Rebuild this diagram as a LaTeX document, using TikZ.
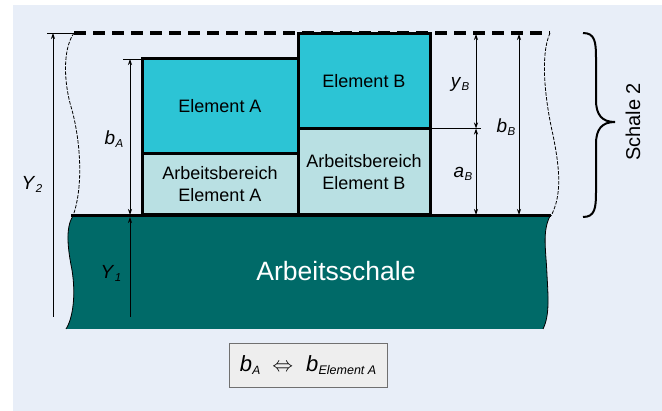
\documentclass[tikz,border=0pt]{standalone}
\usepackage{fontspec}
\setmainfont{Liberation Sans}
\usetikzlibrary{arrows.meta}
\definecolor{bgblue}{HTML}{E8EEF8}
\definecolor{elemcyan}{HTML}{2CC4D5}
\definecolor{arblight}{HTML}{B9E0E3}
\definecolor{groundteal}{HTML}{006A68}
\definecolor{eqfill}{HTML}{EEEEEE}
\definecolor{eqdraw}{HTML}{707070}
\newcommand{\dimlbl}[4]{{\fontsize{#3}{#3}\selectfont\textit{#1}}\kern0.3pt\raisebox{-0.3em}{\fontsize{#4}{#4}\selectfont\textit{#2}}}
\begin{document}
\begin{tikzpicture}[x=1pt,y=-1pt,
  elembox/.style={draw=black, line width=3pt, fill=elemcyan, inner sep=0pt, outer sep=0pt, align=center, font=\fontsize{18}{22}\selectfont},
  arbbox/.style={elembox, fill=arblight},
  dimline/.style={line width=0.8pt, {Stealth[length=6pt,width=4pt]}-{Stealth[length=6pt,width=4pt]}},
  upline/.style={line width=0.8pt, -{Stealth[length=6pt,width=4pt]}},
  thinline/.style={line width=0.8pt},
  wavy/.style={line width=0.8pt, dash pattern=on 3.5pt off 1.5pt},
  lbl/.style={inner sep=0pt}
]
\useasboundingbox (0,0) rectangle (662,411);
\fill[white] (0,0) rectangle (662,411);
\fill[bgblue] (13,5) rectangle (662,411);

% ground (Arbeitsschale)
\fill[groundteal] (73,216) .. controls (65,228) and (68,250) .. (72,270)
  .. controls (76,295) and (73,318) .. (66,329) -- (543,329)
  .. controls (550,315) and (548,295) .. (547,275)
  .. controls (546,250) and (542,232) .. (550,216) -- cycle;
\draw[thinline] (73,216) .. controls (65,228) and (68,250) .. (72,270)
  .. controls (76,295) and (73,318) .. (66,329);
\draw[thinline] (550,216) .. controls (542,232) and (546,250) .. (547,275)
  .. controls (548,295) and (550,315) .. (543,329);
\node[text=white, font=\fontsize{26.5}{30}\selectfont] (schale) at (336,271) {Arbeitsschale};

% wavy dashed side lines
\draw[wavy] (74,33) .. controls (62,50) and (64,85) .. (72,110)
  .. controls (80,140) and (84,185) .. (73,216);
\draw[wavy] (550,33) .. controls (540,55) and (545,100) .. (553,135)
  .. controls (560,170) and (562,195) .. (551,216);

% dashed top line
\draw[line width=3.5pt, dash pattern=on 12pt off 7pt] (74,33) -- (550,33);
\coordinate (y2top) at (53,33);
\coordinate (tickl) at (47,33);
\coordinate (tickr) at (74,33);
\draw[thinline] (tickl) -- (tickr);

% elements
\node[elembox, minimum width=156pt, minimum height=95pt] (ea) at (220,106.5) {Element A};
\node[arbbox, minimum width=156pt, minimum height=61pt] (aa) at (220,184.5) {Arbeitsbereich\\Element A};
\node[elembox, minimum width=132pt, minimum height=94.5pt] (eb) at (364,81.25) {Element B};
\node[arbbox, minimum width=132pt, minimum height=86.5pt] (ab) at (364,171.75) {Arbeitsbereich\\Element B};

% ground top edge
\draw[line width=3pt] (71,215.5) -- (551,215.5);

% dimension lines
\coordinate (batop) at (130,59);
\coordinate (babot) at (130,215);
\coordinate (batick) at (123,59);
\draw[thinline] (batick) -- (ea.north west);
\draw[dimline] (batop) -- (babot);
\node[lbl] (lba) at (114,139) {\dimlbl{b}{A}{19}{11.5}};

\coordinate (y2bot) at (53,317);
\draw[upline] (y2bot) -- (y2top);
\node[lbl] (ly2) at (32,184) {\dimlbl{Y}{2}{19}{11.5}};

\coordinate (y1bot) at (130,317);
\coordinate (y1top) at (130,217);
\draw[upline] (y1bot) -- (y1top);
\node[lbl] (ly1) at (111,273) {\dimlbl{Y}{1}{19}{11.5}};

\coordinate (ybtop) at (476,34);
\coordinate (ybmid) at (476,128.5);
\coordinate (ybtick) at (481,128.5);
\coordinate (abbot) at (476,215);
\coordinate (bbtop) at (519,34);
\coordinate (bbbot) at (519,215);
\draw[thinline] (eb.south east) -- (ybtick);
\draw[dimline] (ybtop) -- (ybmid);
\draw[dimline] (ybmid) -- (abbot);
\draw[dimline] (bbtop) -- (bbbot);
\node[lbl] (lyb) at (460,84) {\dimlbl{y}{B}{19}{11.5}};
\node[lbl] (lab) at (463,174) {\dimlbl{a}{B}{19}{11.5}};
\node[lbl] (lbb) at (506,127) {\dimlbl{b}{B}{19}{11.5}};

% brace
\draw[line width=2pt] (583,33) .. controls (595,33) and (596,42) .. (596,58)
  -- (596,100) .. controls (596,115) and (602,122) .. (615,122)
  .. controls (602,122) and (596,129) .. (596,144)
  -- (596,192) .. controls (596,208) and (595,217) .. (583,217);
\node[rotate=90, font=\fontsize{20}{24}\selectfont] (sch2) at (633,122) {Schale 2};

% equivalence box
\node[draw=eqdraw, line width=0.8pt, fill=eqfill, minimum width=158pt, minimum height=44pt, inner sep=0pt] (eq) at (308,365)
  {\dimlbl{b}{A}{22}{12}\hspace{12pt}{\fontsize{20}{20}\selectfont$\Leftrightarrow$}\hspace{13pt}\dimlbl{b}{Element A}{22}{12.5}};
\end{tikzpicture}
\end{document}
